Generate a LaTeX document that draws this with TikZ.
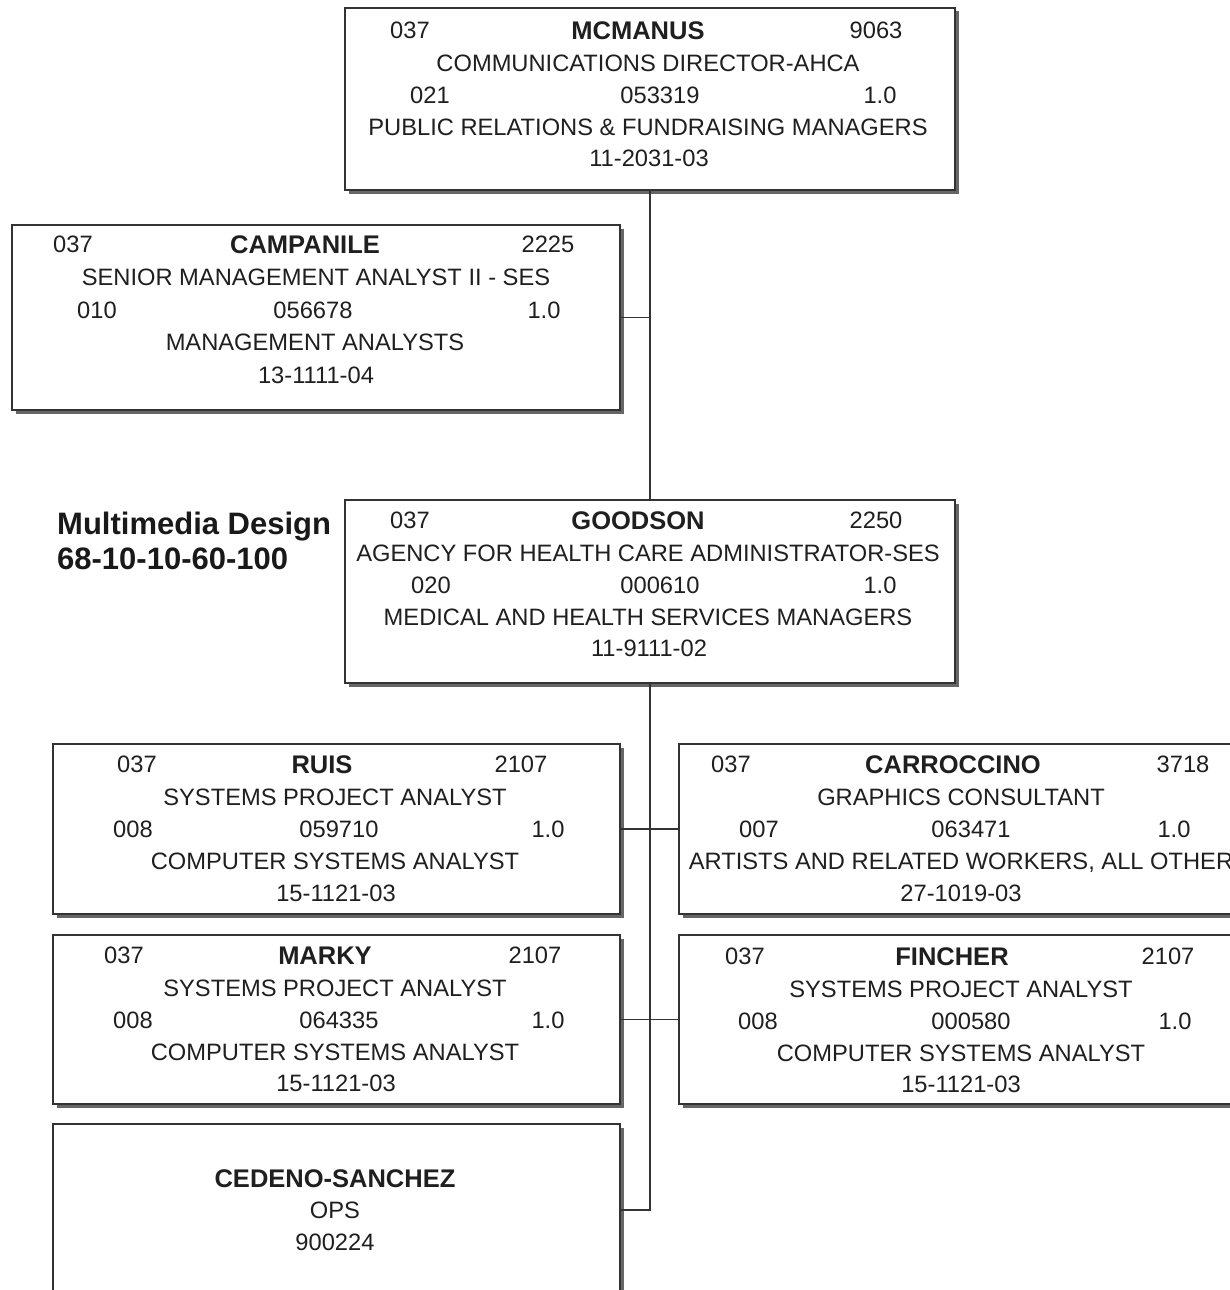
\documentclass[tikz,border=0pt]{standalone}
\usepackage{fontspec}
\setmainfont{Liberation Sans}
\usetikzlibrary{shadows}
\begin{document}
\begin{tikzpicture}[x=1pt,y=-1pt,
  card/.style={draw=black!80, line width=1.8pt, fill=white, inner sep=0pt,
    drop shadow={shadow xshift=3.5pt, shadow yshift=-3.5pt, fill=black!60, opacity=1}},
  lbl/.style={inner sep=0pt, anchor=base, yshift=-8.4pt, text=black!88,
    font=\fontsize{23.7}{28}\selectfont},
  who/.style={inner sep=0pt, anchor=base, yshift=-9.1pt, text=black!88,
    font=\fontsize{25.5}{30}\selectfont\bfseries},
  unit/.style={inner sep=0pt, anchor=base west, text=black!90,
    font=\fontsize{31}{36}\selectfont\bfseries},
  link/.style={draw=black!80, line width=1.8pt}]

\useasboundingbox (0,0) rectangle (1230,1290);
\clip (0,0) rectangle (1230,1290);

% position cards
\node[card, minimum width=610, minimum height=182] (mcmanus)    at (650,99)     {};
\node[card, minimum width=608, minimum height=185] (campanile)  at (316,317.5)  {};
\node[card, minimum width=610, minimum height=183] (goodson)    at (650,591.5)  {};
\node[card, minimum width=567, minimum height=170] (ruis)       at (336.5,829)  {};
\node[card, minimum width=564, minimum height=170] (carroccino) at (961,829)    {};
\node[card, minimum width=567, minimum height=169] (marky)      at (336.5,1019.5) {};
\node[card, minimum width=564, minimum height=169] (fincher)    at (961,1019.5) {};
\node[card, minimum width=567, minimum height=172] (cedeno)     at (336.5,1210) {};

% reporting lines
\draw[link] (mcmanus.south) -- (goodson.north);
\draw[link] (campanile.east) -- (campanile.east -| mcmanus.south);
\draw[link] (goodson.south) |- (cedeno.east);
\draw[link] (ruis.east) -- (carroccino.west);
\draw[link] (marky.east) -- (fincher.west);

% unit heading
\node[unit] (unitname) at (57,534) {Multimedia Design};
\node[unit] (unitcode) at (57,569) {68-10-10-60-100};

% MCMANUS
\node[lbl] (m1) at (410,30) {037};
\node[who] (m2) at (638,30) {MCMANUS};
\node[lbl] (m3) at (876,30) {9063};
\node[lbl] (m4) at (648,63) {COMMUNICATIONS DIRECTOR-AHCA};
\node[lbl] (m5) at (430,95) {021};
\node[lbl] (m6) at (660,95) {053319};
\node[lbl] (m7) at (880,95) {1.0};
\node[lbl] (m8) at (648,127) {PUBLIC RELATIONS \& FUNDRAISING MANAGERS};
\node[lbl] (m9) at (649,158) {11-2031-03};

% CAMPANILE
\node[lbl] (c1) at (73,244) {037};
\node[who] (c2) at (305,244) {CAMPANILE};
\node[lbl] (c3) at (548,244) {2225};
\node[lbl] (c4) at (316,277) {SENIOR MANAGEMENT ANALYST II - SES};
\node[lbl] (c5) at (97,310) {010};
\node[lbl] (c6) at (313,310) {056678};
\node[lbl] (c7) at (544,310) {1.0};
\node[lbl] (c8) at (315,342) {MANAGEMENT ANALYSTS};
\node[lbl] (c9) at (316,375) {13-1111-04};

% GOODSON
\node[lbl] (g1) at (410,520) {037};
\node[who] (g2) at (638,520) {GOODSON};
\node[lbl] (g3) at (876,520) {2250};
\node[lbl] (g4) at (648,553) {AGENCY FOR HEALTH CARE ADMINISTRATOR-SES};
\node[lbl] (g5) at (431,585) {020};
\node[lbl] (g6) at (660,585) {000610};
\node[lbl] (g7) at (880,585) {1.0};
\node[lbl] (g8) at (648,617) {MEDICAL AND HEALTH SERVICES MANAGERS};
\node[lbl] (g9) at (649,648) {11-9111-02};

% RUIS
\node[lbl] (r1) at (137,764) {037};
\node[who] (r2) at (322,764) {RUIS};
\node[lbl] (r3) at (521,764) {2107};
\node[lbl] (r4) at (335,797) {SYSTEMS PROJECT ANALYST};
\node[lbl] (r5) at (133,829) {008};
\node[lbl] (r6) at (339,829) {059710};
\node[lbl] (r7) at (548,829) {1.0};
\node[lbl] (r8) at (335,861) {COMPUTER SYSTEMS ANALYST};
\node[lbl] (r9) at (336,893) {15-1121-03};

% CARROCCINO
\node[lbl] (k1) at (731,764) {037};
\node[who] (k2) at (953,764) {CARROCCINO};
\node[lbl] (k3) at (1183,764) {3718};
\node[lbl] (k4) at (961,797) {GRAPHICS CONSULTANT};
\node[lbl] (k5) at (759,829) {007};
\node[lbl] (k6) at (971,829) {063471};
\node[lbl] (k7) at (1174,829) {1.0};
\node[lbl] (k8) at (961,861) {ARTISTS AND RELATED WORKERS, ALL OTHER};
\node[lbl] (k9) at (961,893) {27-1019-03};

% MARKY
\node[lbl] (y1) at (124,955) {037};
\node[who] (y2) at (325,955) {MARKY};
\node[lbl] (y3) at (535,955) {2107};
\node[lbl] (y4) at (335,988) {SYSTEMS PROJECT ANALYST};
\node[lbl] (y5) at (133,1020) {008};
\node[lbl] (y6) at (339,1020) {064335};
\node[lbl] (y7) at (548,1020) {1.0};
\node[lbl] (y8) at (335,1052) {COMPUTER SYSTEMS ANALYST};
\node[lbl] (y9) at (336,1083) {15-1121-03};

% FINCHER
\node[lbl] (f1) at (745,956) {037};
\node[who] (f2) at (952,956) {FINCHER};
\node[lbl] (f3) at (1168,956) {2107};
\node[lbl] (f4) at (961,989) {SYSTEMS PROJECT ANALYST};
\node[lbl] (f5) at (758,1021) {008};
\node[lbl] (f6) at (971,1021) {000580};
\node[lbl] (f7) at (1175,1021) {1.0};
\node[lbl] (f8) at (961,1053) {COMPUTER SYSTEMS ANALYST};
\node[lbl] (f9) at (961,1084) {15-1121-03};

% CEDENO-SANCHEZ
\node[who] (s1) at (335,1178) {CEDENO-SANCHEZ};
\node[lbl] (s2) at (335,1210) {OPS};
\node[lbl] (s3) at (335,1242) {900224};

\end{tikzpicture}
\end{document}
